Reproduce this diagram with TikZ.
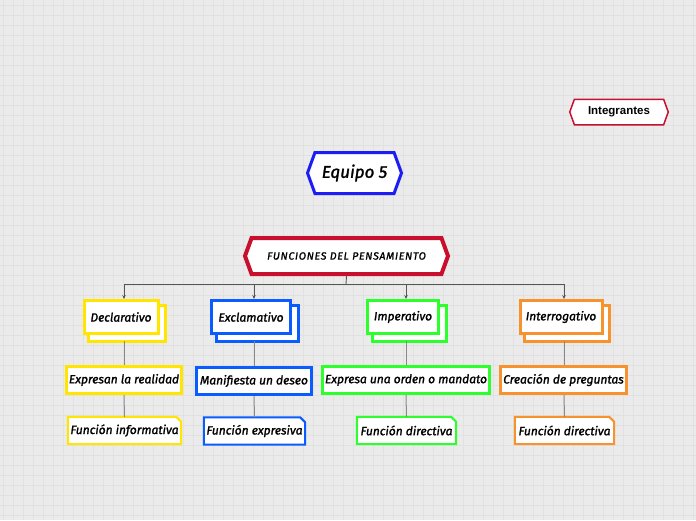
\documentclass[tikz,border=0pt]{standalone}
\usepackage{fontspec}
\setmainfont{Fira Sans}
\newfontfamily\boldsans{Liberation Sans}
\newfontfamily\handfont{Fira Sans Italic}[FakeBold=1.6]
\usetikzlibrary{shapes.symbols,shadows,arrows.meta}
\definecolor{bgc}{HTML}{EBEBEB}
\definecolor{gridc}{HTML}{E1E1E1}
\definecolor{redc}{HTML}{C8102E}
\definecolor{eqblue}{HTML}{1C1CF5}
\definecolor{yel}{HTML}{FFE500}
\definecolor{blu}{HTML}{0A5CFF}
\definecolor{grn}{HTML}{2CFF2C}
\definecolor{org}{HTML}{F7922C}
\definecolor{linec}{HTML}{555555}
\definecolor{linel}{HTML}{8A8A8A}
\tikzset{
  hexa/.style={signal, signal to=east and west, signal pointer angle=140, fill=white, inner sep=0pt},
  hand/.style={font=\handfont\fontsize{12}{14}\selectfont},
  lvlone/.style={rectangle, fill=white, line width=3pt, inner sep=0pt, minimum height=33pt, hand},
  lvltwo/.style={rectangle, fill=white, line width=3pt, inner sep=0pt, minimum height=27pt, hand,
    drop shadow={shadow xshift=1.5pt, shadow yshift=-1.5pt, opacity=0.2, fill=black}},
  lvlthree/.style={rectangle, draw=none, inner sep=0pt, minimum height=27pt, hand},
  gridline/.style={gridc, line width=0.8pt},
  conn/.style={linec, line width=0.9pt},
  connarrow/.style={conn, -{Stealth[length=4pt,width=3.5pt]}},
  connl/.style={linel, line width=1pt}
}
\newcommand{\backbox}[2]{%
  \draw[#2, line width=3pt, fill=white] ([shift={(6pt,-6pt)}]#1.south west) rectangle ([shift={(6pt,-6pt)}]#1.north east);}
\newcommand{\foldbox}[2]{%
  \draw[#2, line width=2pt, fill=white, line join=miter] (#1.south west) -- (#1.north west) -- ([xshift=-5pt]#1.north east) -- ([yshift=-5pt]#1.north east) -- (#1.south east) -- cycle;}
\begin{document}
\begin{tikzpicture}[x=1pt,y=-1pt]
\useasboundingbox (0,0) rectangle (696,520);
\fill[bgc] (0,0) rectangle (696,520);
\foreach \x in {3,13,...,693} \draw[gridline] (\x,0) -- (\x,520);
\foreach \y in {5,15,...,515} \draw[gridline] (0,\y) -- (696,\y);

% top nodes
\node[hexa, draw=redc, line width=1.5pt, minimum width=98.5pt, minimum height=25.5pt,
  font=\boldsans\bfseries\fontsize{11.5}{13}\selectfont] (integ) at (619,112) {Integrantes};
\node[hexa, draw=eqblue, line width=3pt, minimum width=94pt, minimum height=41pt,
  font=\handfont\fontsize{17}{20}\selectfont] (equipo) at (354.5,173) {Equipo 5};
\node[hexa, draw=redc, line width=4pt, minimum width=203pt, minimum height=36pt,
  font=\handfont\fontsize{10.5}{12}\selectfont\addfontfeature{LetterSpace=7}] (fun) at (346.5,256) {FUNCIONES DEL PENSAMIENTO};

% connector bus
\coordinate (jc) at (346,284);
\coordinate (j1) at (124,284);
\coordinate (j2) at (254,284);
\coordinate (j3) at (406,284);
\coordinate (j4) at (564,284);
\draw[conn] (fun.south) -- (jc);
\draw[conn] (j1) -- (j4);

% level one (back boxes first)
\path (121,317) node[lvlone, minimum width=74pt, draw=none] (d1) {};
\path (251,317) node[lvlone, minimum width=79pt, draw=none] (e1) {};
\path (403,317) node[lvlone, minimum width=71pt, draw=none] (i1) {};
\path (561,317) node[lvlone, minimum width=82pt, draw=none] (q1) {};
\backbox{d1}{yel}
\backbox{e1}{blu}
\backbox{i1}{grn}
\backbox{q1}{org}
\node[lvlone, draw=yel, minimum width=74pt] (decl) at (121,317) {Declarativo};
\node[lvlone, draw=blu, minimum width=79pt] (excl) at (251,317) {Exclamativo};
\node[lvlone, draw=grn, minimum width=71pt] (imp) at (403,317) {Imperativo};
\node[lvlone, draw=org, minimum width=82pt] (inter) at (561,317) {Interrogativo};

\draw[connarrow] (j1) -- (j1 |- decl.north);
\draw[connarrow] (j2) -- (j2 |- excl.north);
\draw[connarrow] (j3) -- (j3 |- imp.north);
\draw[connarrow] (j4) -- (j4 |- inter.north);

% level two
\node[lvltwo, draw=yel, minimum width=115pt] (expr) at (124,380) {Expresan la realidad};
\node[lvltwo, draw=blu, minimum width=115pt] (mani) at (254,381) {Manifiesta un deseo};
\node[lvltwo, draw=grn, minimum width=167pt] (orden) at (406,380) {Expresa una orden o mandato};
\node[lvltwo, draw=org, minimum width=126pt] (crea) at (563.5,380) {Creación de preguntas};

% level three
\path (124.5,430.5) node[lvlthree, minimum width=113pt] (finf) {};
\path (254.5,431) node[lvlthree, minimum width=101pt] (fexp) {};
\path (406.5,430.5) node[lvlthree, minimum width=99pt] (fdir) {};
\path (564.5,430.5) node[lvlthree, minimum width=99pt] (fdir2) {};
\foldbox{finf}{yel}
\foldbox{fexp}{blu}
\foldbox{fdir}{grn}
\foldbox{fdir2}{org}
\node[hand] at (finf) {Función informativa};
\node[hand] at (fexp) {Función expresiva};
\node[hand] at (fdir) {Función directiva};
\node[hand] at (fdir2) {Función directiva};

% vertical links
\draw[connl] (124,341) -- (expr.north);
\draw[connl] (254,341) -- (mani.north);
\draw[connl] (406,341) -- (orden.north);
\draw[connl] (564,341) -- (564,365);
\draw[connl] (expr.south) -- (finf.north);
\draw[connl] (mani.south) -- (fexp.north);
\draw[connl] (orden.south) -- (fdir.north);
\draw[connl] (564,395) -- (fdir2.north);
\end{tikzpicture}
\end{document}
